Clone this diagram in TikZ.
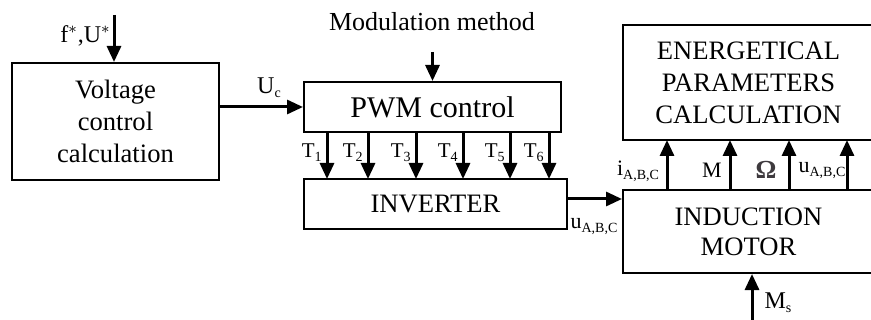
\documentclass[tikz,border=0pt]{standalone}
\usepackage{fontspec}
\setmainfont{Liberation Serif}
\usetikzlibrary{arrows.meta}
\definecolor{omegacol}{RGB}{62,58,62}
\tikzset{
  blk/.style={draw, line width=1pt, inner sep=0pt, align=center, font=\fontsize{13.3}{16}\selectfont},
  sig/.style={line width=1.5pt, -{Triangle[width=7pt,length=8pt]}},
  lbl/.style={inner sep=0pt, font=\fontsize{12}{14}\selectfont},
  slbl/.style={inner sep=0pt, font=\fontsize{10.5}{12}\selectfont},
}
\newcommand{\sbs}[1]{\raisebox{-2pt}{\fontsize{7}{8}\selectfont #1}}
\begin{document}
\begin{tikzpicture}[x=0.5pt, y=-0.5pt]
\useasboundingbox (0,0) rectangle (871,320);
% blocks
\node[blk, minimum width=103.5pt, minimum height=58.5pt] (volt) at (115.5,121.5) {Voltage\\control\\calculation};
\node[blk, minimum width=128.5pt, minimum height=25pt, font=\fontsize{15}{17}\selectfont] (pwm) at (432.5,107) {PWM control};
\node[blk, minimum width=131.5pt, minimum height=25pt] (inv) at (435.5,204) {INVERTER};
\node[blk, minimum width=125.5pt, minimum height=57.5pt] (energ) at (748.5,82.5) {ENERGETICAL\\PARAMETERS\\CALCULATION};
\node[blk, minimum width=125.5pt, minimum height=41.5pt, font=\fontsize{13.3}{15}\selectfont] (motor) at (748.5,231.5) {INDUCTION\\MOTOR};
% inputs
\coordinate (fin) at (114,15);
\draw[sig] (fin) -- (fin |- volt.north);
\node[lbl, anchor=east] (flbl) at (111,36) {f$^{*}$,U$^{*}$};
\node[lbl, font=\fontsize{13}{15}\selectfont] (mod) at (432,22) {Modulation method};
\coordinate (modin) at (432.5,52);
\draw[sig] (modin) -- (pwm.north);
% Uc
\draw[sig] (pwm.west -| volt.east) -- (pwm.west);
\node[lbl] (uclbl) at (269,88) {U\sbs{c}};
% T arrows
\foreach \x/\i in {327/1,368/2,416/3,463/4,510/5,549/6}{
  \draw[sig] (\x,132) -- (\x,179);
  \node[slbl, anchor=east] (t\i) at (\x-5,153) {T\sbs{\i}};
}
% inverter to motor
\coordinate (invout) at (567,199);
\draw[sig] (invout) -- (invout -| motor.west);
\node[slbl, font=\fontsize{11}{12}\selectfont] (uinv) at (594,227) {u\sbs{A,B,C}};
% motor to energetical
\foreach \x/\n in {667/a,730/b,789/c,847/d}{
  \draw[sig] (\x,190) -- (\x,140);
}
\node[slbl, font=\fontsize{11}{12}\selectfont] (ilbl) at (638,171) {i\sbs{A,B,C}};
\node[slbl, font=\fontsize{11}{12}\selectfont] (mlbl) at (712,170) {M};
\node[lbl, font=\fontsize{13}{14}\selectfont\bfseries, text=omegacol] (wlbl) at (766,170) {Ω};
\node[slbl, font=\fontsize{11}{12}\selectfont] (ulbl) at (822,171) {u\sbs{A,B,C}};
% load torque
\coordinate (msin) at (752,321);
\draw[sig] (msin) -- (msin |- motor.south);
\node[lbl] (mslbl) at (778,303) {M\sbs{s}};
\end{tikzpicture}
\end{document}
